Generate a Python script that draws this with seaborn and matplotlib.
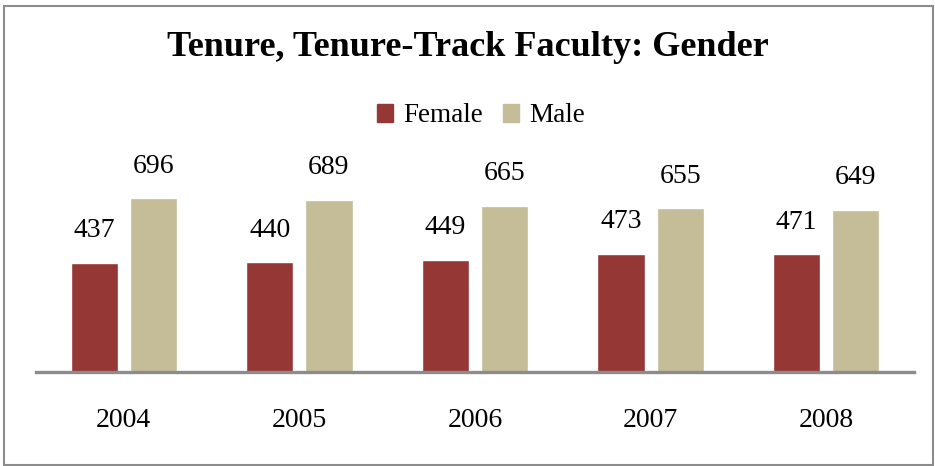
import numpy as np
import pandas as pd
import matplotlib
matplotlib.use('Agg')
import matplotlib.pyplot as plt
import seaborn as sns
from matplotlib.patches import Rectangle

# chart values
years = ['2004', '2005', '2006', '2007', '2008']
female = [437, 440, 449, 473, 471]
male = [696, 689, 665, 655, 649]

df = pd.DataFrame({
    'year': years * 2,
    'count': female + male,
    'gender': ['Female'] * len(years) + ['Male'] * len(years),
})

sns.set_style('white')
plt.rcParams['font.family'] = ['Liberation Serif', 'DejaVu Serif']
plt.rcParams['text.color'] = 'black'
plt.rcParams['xtick.color'] = 'black'

fig = plt.figure(figsize=(9.35, 4.66), dpi=100)
ax = fig.add_axes([36 / 935, 1 - 372 / 466, 878 / 935, 200 / 466])

sns.barplot(data=df, x='year', y='count', hue='gender',
            palette={'Female': '#953735', 'Male': '#C4BD97'},
            width=0.674, gap=0.2, saturation=1, ax=ax, legend=False)

for cont in ax.containers:
    ax.bar_label(cont, padding=14, fontsize=20, color='black')

ax.set_ylim(0, 800)
ax.set_xlim(-0.5, len(years) - 0.5)
ax.set_xlabel('')
ax.set_ylabel('')
ax.set_yticks([])
ax.tick_params(axis='x', length=0, pad=26, labelsize=20, labelcolor='black')
for s in ['top', 'right', 'left']:
    ax.spines[s].set_visible(False)
ax.spines['bottom'].set_color('#8c8c8c')
ax.spines['bottom'].set_linewidth(2.4)

# title
fig.text(0.5, 1 - 48 / 466, 'Tenure, Tenure-Track Faculty: Gender',
         ha='center', va='center', fontsize=26, fontweight='bold', color='black')

# legend
handles = [Rectangle((0, 0), 1, 1, color='#953735'),
           Rectangle((0, 0), 1, 1, color='#C4BD97')]
fig.legend(handles, ['Female', 'Male'], loc='center',
           bbox_to_anchor=(481 / 935, 1 - 116 / 466), ncol=2, frameon=False,
           fontsize=19.5, handlelength=0.6, handleheight=0.6,
           handletextpad=0.37, columnspacing=0.74, borderpad=0, borderaxespad=0)

# outer border
fig.patches.append(Rectangle((0.004, 0.002), 0.994, 0.986, transform=fig.transFigure,
                             fill=False, edgecolor='#8c8c8c', linewidth=1.5))

fig.savefig('out.png', dpi=100)
